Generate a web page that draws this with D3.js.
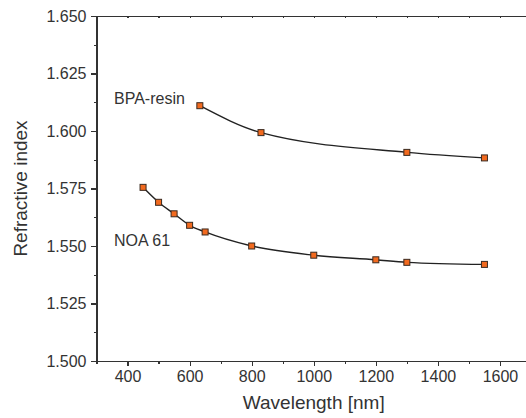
<!DOCTYPE html>
<meta charset="utf-8">
<style>
body { margin: 0; background: #fff; font-family: "Liberation Sans", Arial, sans-serif; }
.axis path, .axis line { stroke: #333; stroke-width: 1.2; shape-rendering: crispEdges; }
.axis text { font-size: 16px; fill: #333; font-family: "Liberation Sans", Arial, sans-serif; }
</style>
<body>
<div id="chart"></div>
<script src="https://d3js.org/d3.v7.min.js"></script>
<script>
// measured values
const bpaWavelength = [633, 830, 1300, 1550];
const bpaIndex = [1.6110, 1.5993, 1.5907, 1.5883];
const noaWavelength = [450, 500, 550, 600, 650, 800, 1000, 1200, 1300, 1550];
const noaIndex = [1.5755, 1.5690, 1.5640, 1.5590, 1.5561, 1.5500, 1.5460, 1.5440, 1.5429, 1.5420];

const xMajorTicks = [400, 600, 800, 1000, 1200, 1400, 1600];
const xMinorTicks = d3.range(300, 1701, 100);
const yMajorTicks = [1.500, 1.525, 1.550, 1.575, 1.600, 1.625, 1.650];
const yMinorTicks = d3.range(1.5, 1.6501, 0.0125);

const width = 526, height = 418;
const margin = {top: 16, right: -5, bottom: 57, left: 96.5};

const x = d3.scaleLinear().domain([300, 1700]).range([margin.left, width - margin.right]);
const y = d3.scaleLinear().domain([1.5, 1.65]).range([height - margin.bottom, margin.top]);

const svg = d3.select("#chart").append("svg")
  .attr("width", width).attr("height", height);

// minor ticks
svg.append("g").attr("class", "axis")
  .attr("transform", `translate(${margin.left},0)`)
  .call(d3.axisLeft(y).tickValues(yMinorTicks).tickSize(3).tickFormat(""))
  .call(g => g.select(".domain").remove());
svg.append("g").attr("class", "axis")
  .attr("transform", `translate(0,${height - margin.bottom})`)
  .call(d3.axisBottom(x).tickValues(xMinorTicks).tickSize(3).tickFormat(""))
  .call(g => g.select(".domain").remove());

// left axis
svg.append("g").attr("class", "axis")
  .attr("transform", `translate(${margin.left},0)`)
  .call(d3.axisLeft(y).tickValues(yMajorTicks).tickSize(6).tickSizeOuter(0).tickPadding(4).tickFormat(d3.format(".3f")));

// bottom axis
svg.append("g").attr("class", "axis")
  .attr("transform", `translate(0,${height - margin.bottom})`)
  .call(d3.axisBottom(x).tickValues(xMajorTicks).tickSize(5).tickSizeOuter(0).tickPadding(5).tickFormat(d3.format("d")));

// top spine with inward ticks
svg.append("g").attr("class", "axis")
  .attr("transform", `translate(0,${margin.top})`)
  .call(d3.axisBottom(x).tickValues(xMinorTicks).tickSize(2).tickSizeOuter(0).tickFormat(""));

// axis titles
svg.append("text")
  .attr("x", (margin.left + width - margin.right) / 2)
  .attr("y", 409)
  .attr("text-anchor", "middle")
  .style("font-size", "19px")
  .style("fill", "#333")
  .text("Wavelength [nm]");

svg.append("text")
  .attr("transform", `translate(27,${(y(1.5) + y(1.65)) / 2}) rotate(-90)`)
  .attr("text-anchor", "middle")
  .style("font-size", "19px")
  .style("fill", "#333")
  .text("Refractive index");

const line = d3.line()
  .x(d => x(d[0]))
  .y(d => y(d[1]))
  .curve(d3.curveMonotoneX);

const series = [
  {name: "BPA-resin", pts: d3.zip(bpaWavelength, bpaIndex), lx: 114, ly: 104},
  {name: "NOA 61", pts: d3.zip(noaWavelength, noaIndex), lx: 114, ly: 246}
];

series.forEach(s => {
  svg.append("path")
    .datum(s.pts)
    .attr("d", line)
    .attr("fill", "none")
    .attr("stroke", "#222")
    .attr("stroke-width", 1.4);

  svg.append("g")
    .selectAll("rect")
    .data(s.pts)
    .join("rect")
      .attr("x", d => x(d[0]) - 3)
      .attr("y", d => y(d[1]) - 3)
      .attr("width", 6)
      .attr("height", 6)
      .attr("fill", "#f26a1f")
      .attr("stroke", "#3a2a20")
      .attr("stroke-width", 1);

  svg.append("text")
    .attr("x", s.lx)
    .attr("y", s.ly)
    .style("font-size", "16px")
    .style("fill", "#333")
    .text(s.name);
});
</script>
